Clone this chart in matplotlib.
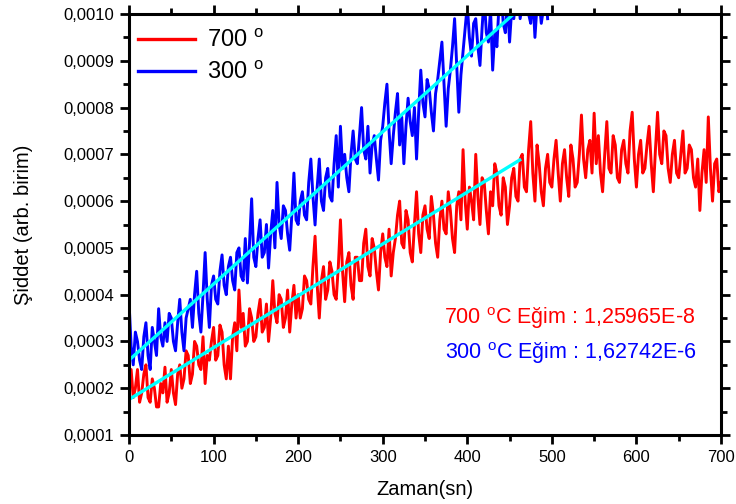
#!/usr/bin/env python3

import matplotlib
matplotlib.use('Agg')
import matplotlib.pyplot as plt
from matplotlib.ticker import MultipleLocator, FuncFormatter
from numpy import array, arange

# intensity samples every 2.5 s, in units of 1e-4 (one row = 50 s)
time_700 = arange(0, 700.1, 2.5)
signal_700 = [
    2.1, 2.4, 1.8, 2.0, 2.4, 1.7, 1.9, 2.3, 2.5, 1.8, 1.7, 2.2, 2.0, 1.6, 1.6, 2.1, 1.9, 2.45, 1.7, 1.9,
    2.4, 1.9, 1.65, 2.3, 2.5, 2.0, 2.2, 2.8, 2.7, 2.1, 2.3, 3.0, 2.9, 2.5, 2.4, 3.1, 2.1, 2.7, 2.6, 3.0,
    3.3, 2.6, 2.7, 3.35, 3.2, 2.5, 2.2, 2.9, 2.2, 3.1, 3.4, 2.8, 4.1, 3.3, 3.6, 2.9, 3.0, 3.7, 3.5, 3.0,
    3.1, 3.6, 3.9, 3.2, 3.3, 3.8, 3.0, 3.5, 4.3, 3.6, 3.4, 4.0, 3.9, 3.3, 3.5, 4.1, 3.2, 3.8, 4.2, 3.5,
    4.0, 3.5, 3.7, 4.4, 4.3, 3.9, 3.8, 4.6, 5.25, 4.2, 3.5, 4.3, 4.6, 3.9, 4.1, 4.7, 4.5, 4.0, 3.9, 4.6,
    5.6, 4.5, 3.85, 4.7, 4.9, 4.2, 3.9, 4.8, 4.8, 4.3, 4.3, 5.1, 5.4, 4.6, 4.4, 5.2, 5.0, 4.5, 4.1, 4.9,
    5.3, 4.8, 4.6, 5.4, 4.4, 4.9, 5.2, 5.7, 6.0, 5.1, 5.0, 5.8, 5.6, 4.9, 4.7, 5.5, 6.2, 5.3, 4.9, 5.7,
    5.9, 5.4, 5.2, 6.1, 5.7, 5.1, 4.8, 5.6, 6.0, 5.4, 5.3, 6.2, 5.8, 5.2, 4.9, 5.9, 6.2, 5.6, 7.1, 6.0,
    5.4, 6.3, 6.0, 5.6, 7.0, 6.1, 5.5, 6.5, 6.4, 5.8, 5.3, 6.2, 5.9, 6.8, 6.6, 5.9, 5.7, 6.5, 6.3, 5.5,
    5.9, 6.5, 6.7, 6.1, 6.0, 6.9, 7.0, 6.3, 6.2, 7.1, 7.7, 6.6, 6.0, 7.2, 6.8, 6.2, 5.9, 6.7, 7.0, 6.4,
    6.3, 6.9, 7.3, 6.6, 6.0, 6.8, 7.1, 6.5, 6.1, 7.2, 6.9, 6.3, 6.4, 7.0, 7.84, 6.9, 6.5, 7.1, 7.3, 6.6,
    7.88, 6.8, 7.4, 6.6, 6.2, 7.0, 7.7, 6.7, 6.6, 7.4, 7.2, 6.5, 6.4, 7.1, 7.3, 6.8, 6.6, 7.5, 7.9, 6.9,
    6.3, 7.0, 7.3, 6.6, 6.7, 7.2, 7.6, 6.8, 6.2, 7.1, 7.9, 7.0, 6.8, 7.5, 7.4, 6.7, 6.4, 7.0, 7.3, 6.6,
    6.5, 7.0, 7.5, 6.6, 6.7, 7.2, 7.1, 6.5, 6.3, 6.9, 5.8, 6.6, 7.1, 6.4, 7.8, 6.7, 6.0, 6.8, 6.9, 6.2,
    6.4,
]

time_300 = arange(0, 495.1, 2.5)
signal_300 = [
    3.85, 2.9, 2.5, 3.2, 3.0, 2.6, 2.4, 3.1, 3.4, 2.7, 2.4, 3.3, 3.0, 2.7, 3.7, 3.1, 2.9, 3.4, 3.0, 3.6,
    3.5, 3.0, 2.8, 3.4, 3.9, 3.2, 2.8, 3.5, 3.7, 3.9, 3.3, 4.0, 4.5, 3.6, 3.2, 4.0, 4.9, 3.9, 3.3, 4.2,
    4.4, 3.9, 3.8, 4.5, 4.85, 4.2, 4.0, 4.6, 4.8, 4.3, 4.1, 4.9, 5.0, 4.4, 4.3, 5.2, 4.25, 5.1, 6.05, 4.8,
    4.6, 5.2, 5.6, 4.8, 4.9, 5.5, 4.57, 5.3, 5.8, 5.0, 6.4, 5.5, 5.2, 5.9, 5.8, 5.3, 4.95, 5.7, 6.6, 5.6,
    5.5, 6.0, 6.2, 5.7, 5.6, 6.4, 6.9, 6.1, 5.49, 6.3, 6.9, 6.0, 5.8, 6.5, 6.7, 6.1, 6.0, 6.8, 7.4, 6.3,
    7.6, 6.7, 7.0, 6.5, 6.2, 7.0, 7.5, 6.9, 6.8, 7.4, 8.0, 7.1, 6.9, 7.6, 6.6, 7.2, 7.4, 6.9, 6.45, 7.3,
    7.6, 8.1, 8.5, 7.5, 6.8, 7.4, 7.9, 8.3, 7.2, 7.8, 6.8, 7.6, 8.2, 7.7, 7.4, 8.0, 6.9, 7.9, 8.8, 8.1,
    7.8, 8.6, 8.4, 7.9, 7.5, 8.3, 8.6, 9.0, 9.4, 8.5, 7.6, 8.4, 8.8, 9.3, 9.9, 8.9, 7.9, 8.7, 9.2, 9.7,
    10.2, 9.5, 9.1, 9.8, 9.9, 9.3, 8.9, 9.7, 10.4, 9.6, 9.4, 10.1, 8.8, 9.6, 9.3, 10.2, 10.5, 9.8, 9.6, 10.3,
    9.4, 10.1, 9.9, 10.4, 10.6, 9.9, 10.2, 10.6, 10.5, 10.0, 9.8, 10.4, 9.5, 10.2, 10.3, 9.8, 10.1, 10.5, 9.9,
]

# linear fits
fit_700_x = array([0, 462])
fit_700_b, fit_700_m = 0.000176, 1.108e-6
fit_300_x = array([0, 460])
fit_300_b, fit_300_m = 0.00026, 1.62742e-6

plt.rcParams['font.family'] = ['Liberation Sans', 'DejaVu Sans']
plt.rcParams['mathtext.default'] = 'regular'

fig = plt.figure(figsize=(7.36, 5.04), dpi=100)
ax = fig.add_axes([0.1753, 0.1369, 0.8043, 0.8353])

ax.plot(time_700, array(signal_700) * 1e-4, color='#ff0000', lw=2.1, label='700 $^{o}$')
ax.plot(time_300, array(signal_300) * 1e-4, color='#0000ff', lw=2.1, label='300 $^{o}$')
ax.plot(fit_700_x, fit_700_b + fit_700_m * fit_700_x, color='#00ffff', lw=2.4)
ax.plot(fit_300_x, fit_300_b + fit_300_m * fit_300_x, color='#00ffff', lw=2.4)

ax.set_xlim(0, 700)
ax.set_ylim(0.0001, 0.0010)
ax.xaxis.set_major_locator(MultipleLocator(100))
ax.xaxis.set_minor_locator(MultipleLocator(50))
ax.yaxis.set_major_locator(MultipleLocator(0.0001))
ax.yaxis.set_minor_locator(MultipleLocator(0.00005))
ax.yaxis.set_major_formatter(FuncFormatter(lambda v, p: ('%.4f' % v).replace('.', ',')))

ax.tick_params(which='both', direction='out', top=True, right=True, width=2,
               labelsize=12, pad=4)
ax.tick_params(which='major', length=6.5)
ax.tick_params(which='minor', length=4)
for s in ax.spines.values():
    s.set_linewidth(2.2)

ax.set_xlabel('Zaman(sn)', fontsize=14.5, labelpad=11)
ax.set_ylabel('Şiddet (arb. birim)', fontsize=14.5, labelpad=22)

leg = ax.legend(loc='upper left', bbox_to_anchor=(-0.02, 1.012), frameon=False, fontsize=17,
                handlelength=2.4, handletextpad=0.5, labelspacing=0.4)
for h in leg.legend_handles:
    h.set_linewidth(2.4)

ax.text(669, 0.00035, '700 $^{o}$C Eğim : 1,25965E-8', color='#ff0000', fontsize=15.5,
        ha='right', va='center')
ax.text(671, 0.000275, '300 $^{o}$C Eğim : 1,62742E-6', color='#0000ff', fontsize=15.5,
        ha='right', va='center')

plt.savefig('out.png', dpi=100)
